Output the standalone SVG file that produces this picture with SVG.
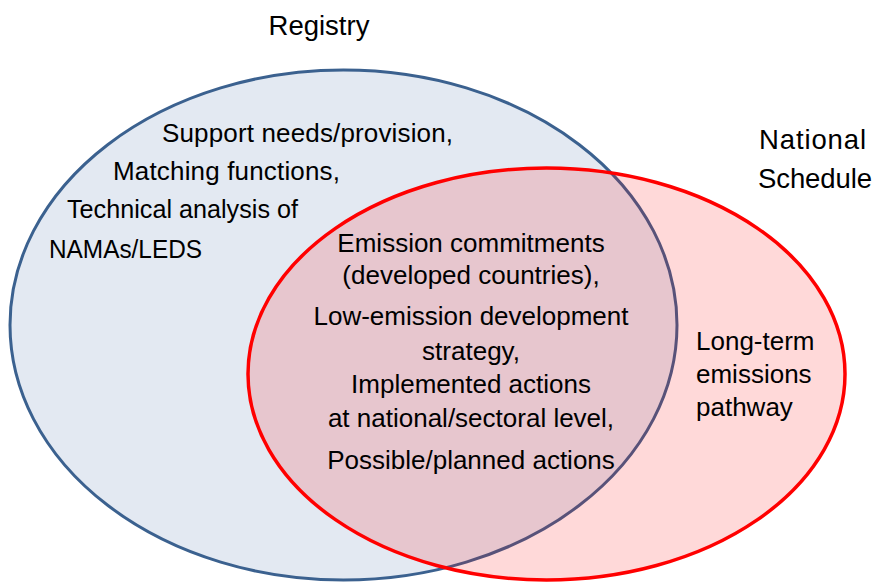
<svg xmlns="http://www.w3.org/2000/svg" width="875" height="583" viewBox="0 0 875 583">
  <style>
    .t { font-family: "Liberation Sans", Arial, sans-serif; font-size: 26px; fill: #000; }
    .title { font-size: 27.5px; }
    .mid { text-anchor: middle; }
  </style>
  <rect width="875" height="583" fill="#ffffff"/>
  <g id="registry">
    <ellipse cx="343.5" cy="325" rx="333.5" ry="255" fill="#e3e9f2" stroke="#3b618f" stroke-width="3"/>
    <text class="t title mid" x="319" y="35">Registry</text>
    <text class="t" x="162" y="142" textLength="291">Support needs/provision,</text>
    <text class="t" x="113" y="180" textLength="227">Matching functions,</text>
    <text class="t" x="67" y="218" textLength="231" lengthAdjust="spacingAndGlyphs">Technical analysis of</text>
    <text class="t" x="49" y="258" textLength="153" lengthAdjust="spacingAndGlyphs">NAMAs/LEDS</text>
  </g>
  <g id="national-schedule">
    <ellipse cx="546.5" cy="374" rx="298.5" ry="206" fill="#ff0000" fill-opacity="0.15" stroke="#ff0000" stroke-width="3.5"/>
    <text class="t title" x="759" y="149" textLength="107">National</text>
    <text class="t title" x="758" y="188" textLength="114">Schedule</text>
    <text class="t" x="696" y="350">Long-term</text>
    <text class="t" x="696" y="383">emissions</text>
    <text class="t" x="696" y="416">pathway</text>
  </g>
  <g id="overlap">
    <text class="t mid" x="471" y="252">Emission commitments</text>
    <text class="t mid" x="471" y="284">(developed countries),</text>
    <text class="t mid" x="471" y="325">Low-emission development</text>
    <text class="t mid" x="471" y="360">strategy,</text>
    <text class="t mid" x="471" y="393">Implemented actions</text>
    <text class="t mid" x="471" y="427">at national/sectoral level,</text>
    <text class="t mid" x="471" y="469">Possible/planned actions</text>
  </g>
  <g id="connectors"/>
</svg>
